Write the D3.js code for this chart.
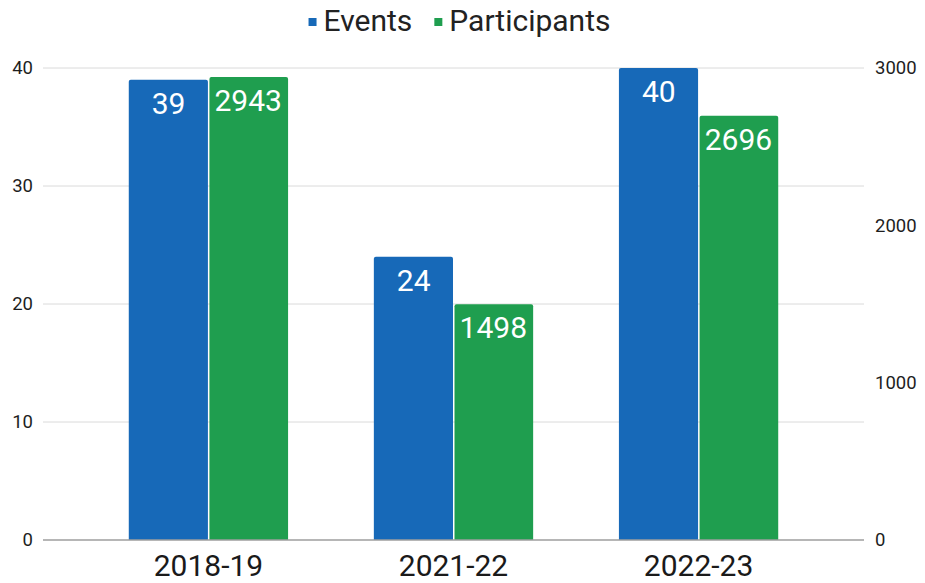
<!DOCTYPE html>
<head>
  <meta charset='utf-8'>
  <style>
      body {
        margin: 0;
        background: white;
        font-family: Roboto, 'Noto Sans', sans-serif;
      }
      .grid line {
        stroke: #dadada;
        stroke-width: 1px;
      }
      .baseline {
        stroke: #9e9e9e;
        stroke-width: 1.6px;
      }
      .tick-label {
        font-size: 18.5px;
        fill: #1e1e1e;
      }
      .cat-label {
        font-size: 30px;
        fill: #1a1a1a;
      }
      .value-label {
        font-size: 30px;
        fill: white;
      }
      .legend text {
        font-size: 30px;
        fill: #222;
      }
  </style>
</head>
<body>
<script src='https://d3js.org/d3.v7.min.js'></script>
<script>
    var
        W = 925,
        H = 583,
        margin = {top: 68, right: 61, bottom: 43, left: 43};

    // data
    var seasons = ['2018-19', '2021-22', '2022-23'],
        events = [39, 24, 40],
        participants = [2943, 1498, 2696],
        leftTicks = [0, 10, 20, 30, 40],
        rightTicks = [0, 1000, 2000, 3000],
        seriesNames = ['Events', 'Participants'],
        seriesColors = ['#1769b8', '#1f9e4f'];

    var
        w = W - margin.left - margin.right,
        h = H - margin.top - margin.bottom,
        x = d3.scaleBand()
            .domain(seasons)
            .range([0, w])
            .paddingInner(0.35)
            .paddingOuter(0.35),
        xSub = d3.scaleBand()
            .domain(seriesNames)
            .range([0, x.bandwidth()]),
        yLeft = d3.scaleLinear()
            .domain([0, 40])
            .range([h, 0]),
        yRight = d3.scaleLinear()
            .domain([0, 3000])
            .range([h, 0]);

    var svg = d3.select('body')
        .append('svg')
            .attr('width', W)
            .attr('height', H),
        g = svg.append('g')
            .attr('transform', 'translate(' + margin.left + ',' + margin.top + ')');

    // gridlines
    g.append('g')
        .attr('class', 'grid')
        .selectAll('line')
        .data(leftTicks.filter(function(d) { return d > 0; }))
        .enter().append('line')
            .attr('x1', 0)
            .attr('x2', w)
            .attr('y1', function(d) { return yLeft(d); })
            .attr('y2', function(d) { return yLeft(d); });

    // left axis labels
    g.selectAll('.left-label')
        .data(leftTicks)
        .enter().append('text')
            .attr('class', 'tick-label left-label')
            .attr('x', -10)
            .attr('y', function(d) { return yLeft(d); })
            .attr('dy', '0.35em')
            .attr('text-anchor', 'end')
            .text(function(d) { return d; });

    // right axis labels
    g.selectAll('.right-label')
        .data(rightTicks)
        .enter().append('text')
            .attr('class', 'tick-label right-label')
            .attr('x', w + 11)
            .attr('y', function(d) { return yRight(d); })
            .attr('dy', '0.35em')
            .attr('text-anchor', 'start')
            .text(function(d) { return d; });

    var rows = seasons.map(function(s, i) {
        return [
            {season: s, key: 'Events', value: events[i], y: yLeft(events[i]), color: seriesColors[0]},
            {season: s, key: 'Participants', value: participants[i], y: yRight(participants[i]), color: seriesColors[1]}
        ];
    });

    var groups = g.selectAll('.group')
        .data(rows)
        .enter().append('g')
            .attr('class', 'group')
            .attr('transform', function(d) { return 'translate(' + x(d[0].season) + ',0)'; });

    groups.selectAll('path')
        .data(function(d) { return d; })
        .enter().append('path')
            .attr('fill', function(d) { return d.color; })
            .attr('d', function(d) {
                var x0 = xSub(d.key) + (d.key === 'Participants' ? 1 : 0),
                    x1 = xSub(d.key) + xSub.bandwidth() - (d.key === 'Events' ? 0.5 : 0),
                    y0 = d.y,
                    r = 2;
                return 'M' + x0 + ',' + h +
                    'V' + (y0 + r) +
                    'Q' + x0 + ',' + y0 + ' ' + (x0 + r) + ',' + y0 +
                    'H' + (x1 - r) +
                    'Q' + x1 + ',' + y0 + ' ' + x1 + ',' + (y0 + r) +
                    'V' + h + 'Z';
            });

    groups.selectAll('.value-label')
        .data(function(d) { return d; })
        .enter().append('text')
            .attr('class', 'value-label')
            .attr('x', function(d) { return xSub(d.key) + xSub.bandwidth() / 2; })
            .attr('y', function(d) { return d.y + 34; })
            .attr('text-anchor', 'middle')
            .text(function(d) { return d.value; });

    // baseline
    g.append('line')
        .attr('class', 'baseline')
        .attr('x1', 0)
        .attr('x2', w)
        .attr('y1', h)
        .attr('y2', h);

    // category labels
    g.selectAll('.cat-label')
        .data(seasons)
        .enter().append('text')
            .attr('class', 'cat-label')
            .attr('x', function(d) { return x(d) + x.bandwidth() / 2; })
            .attr('y', h + 36)
            .attr('text-anchor', 'middle')
            .text(function(d) { return d; });

    // legend
    var legend = svg.append('g')
        .attr('class', 'legend');
    var items = legend.selectAll('g')
        .data(seriesNames)
        .enter().append('g');
    items.append('rect')
        .attr('width', 8)
        .attr('height', 8)
        .attr('y', 18)
        .attr('fill', function(d, i) { return seriesColors[i]; });
    items.append('text')
        .attr('x', 15)
        .attr('y', 31)
        .text(function(d) { return d; });

    var offset = 0, gap = 22, widths = [];
    items.each(function() {
        widths.push(this.getBBox().width);
    });
    var total = d3.sum(widths) + gap * (widths.length - 1),
        start = 459.5 - total / 2;
    items.attr('transform', function(d, i) {
        var tx = start + offset;
        offset += widths[i] + gap;
        return 'translate(' + tx + ',0)';
    });
</script>
</body>
